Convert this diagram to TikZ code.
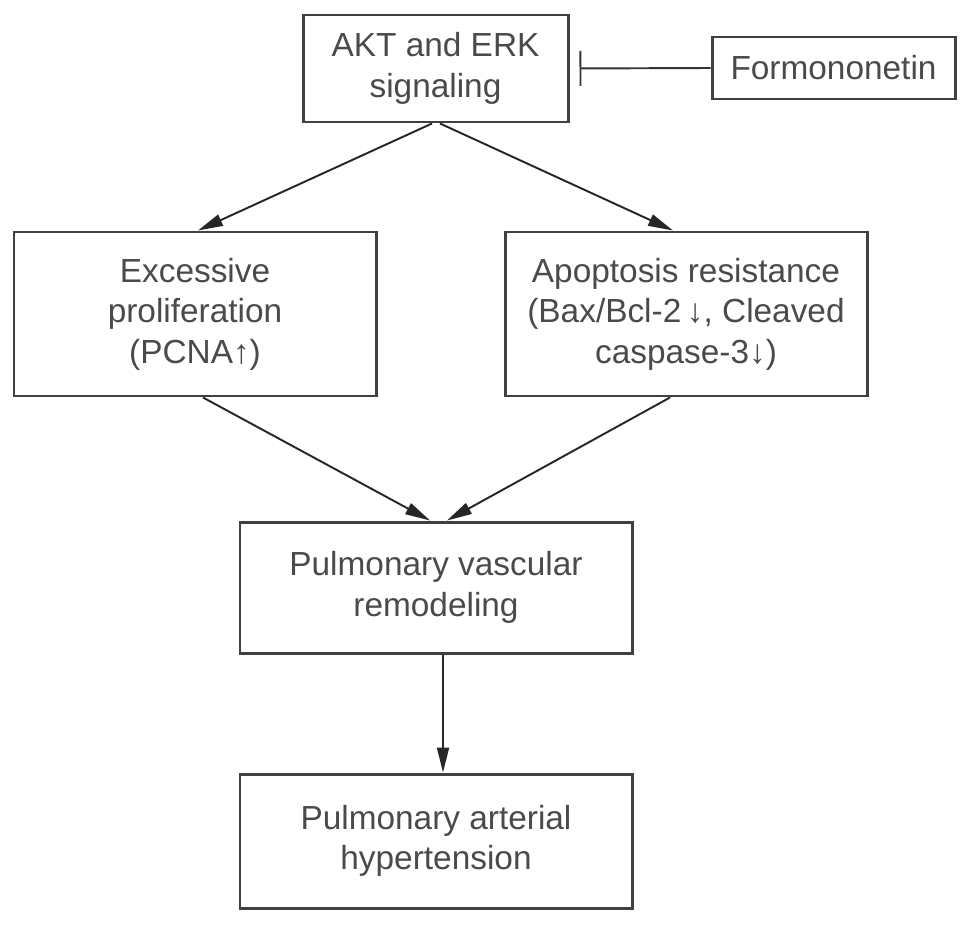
\documentclass[tikz,border=0pt]{standalone}
\usepackage{fontspec}
\setmainfont{Liberation Sans}
\usetikzlibrary{arrows,arrows.meta}
\definecolor{boxgray}{HTML}{404040}
\definecolor{textgray}{HTML}{4A4A4A}

\begin{document}
\begin{tikzpicture}[auto,
	box/.style={draw=boxgray, line width=1.7pt, align=center, text=textgray, inner sep=0pt, font=\fontsize{19}{23}\selectfont},
	flow/.style={-{Triangle[length=5mm,width=2.4mm]}, draw=black!85, fill=black!85, line width=1.1pt},
	inhib/.style={-{Bar[width=7mm]}, draw=black!80, line width=1.1pt, shorten >=2mm}]
					\useasboundingbox (0,0) rectangle (19.38,-18.48);
					\node[box, minimum width=5.3cm, minimum height=2.14cm] (akt) at (8.71, -1.37) {AKT and ERK\\signaling};
					\node[box, minimum width=4.86cm, minimum height=1.24cm] (formo) at (16.67, -1.36) {Formononetin};
					\node[box, minimum width=7.24cm, minimum height=3.28cm] (prolif) at (3.9, -6.28) {Excessive\\proliferation\\(PCNA↑)};
					\node[box, minimum width=7.24cm, minimum height=3.28cm] (apop) at (13.72, -6.28) {Apoptosis resistance\\(Bax/Bcl-2\,↓, Cleaved\\caspase-3↓)};
					\node[box, minimum width=7.84cm, minimum height=2.62cm] (remod) at (8.72, -11.75) {Pulmonary vascular\\remodeling};
					\node[box, minimum width=7.84cm, minimum height=2.68cm] (pah) at (8.72, -16.82) {Pulmonary arterial\\hypertension};
					\draw[inhib] (formo.west) to (akt.east);
					\draw[flow] ([xshift=-0.07cm]akt.south) to ([xshift=0.06cm]prolif.north);
					\draw[flow] ([xshift=0.09cm]akt.south) to ([xshift=-0.26cm]apop.north);
					\draw[flow] ([xshift=0.16cm]prolif.south) to ([xshift=-0.12cm]remod.north);
					\draw[flow] ([xshift=-0.32cm]apop.south) to ([xshift=0.22cm]remod.north);
					\draw[flow] ([xshift=0.14cm]remod.south) to ([xshift=0.14cm]pah.north);
				\end{tikzpicture}
\end{document}
